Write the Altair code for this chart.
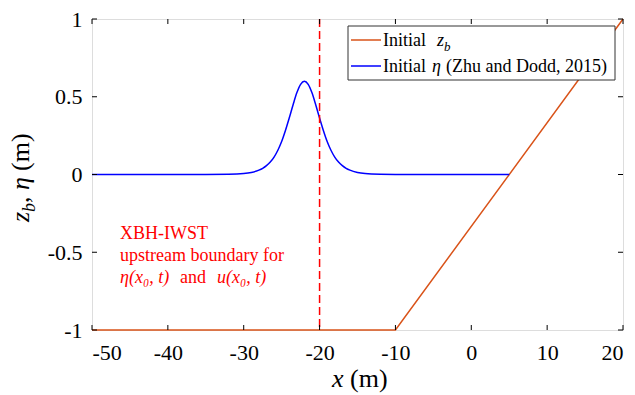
import altair as alt
import pandas as pd

SERIF = "Liberation Serif"

# Initial bed elevation z_b (m)
bed_x = [-50, -10, 20]
bed_z = [-1, -1, 1]

# Initial free surface eta (m), solitary wave centred near x = -22 m
eta_x = [-50, -40, -35, -32, -30, -29, -28, -27.5, -27, -26.5, -26, -25.5, -25,
         -24.5, -24, -23.5, -23, -22.5, -22, -21.5, -21, -20.5, -20, -19.5, -19,
         -18.5, -18, -17.5, -17, -16.5, -16, -15, -14, -12, -10, 0, 5]
eta_y = [0.0, 0.0, 0.0003, 0.0015, 0.006, 0.013, 0.028, 0.040, 0.057, 0.080, 0.112,
         0.156, 0.212, 0.283, 0.363, 0.447, 0.525, 0.580, 0.600, 0.580, 0.525, 0.447,
         0.363, 0.283, 0.212, 0.156, 0.112, 0.080, 0.057, 0.040, 0.028, 0.013, 0.006,
         0.0015, 0.0005, 0.0, 0.0]

# Upstream boundary location x0 (m)
boundary_x = [-20]

x_ticks = [-50, -40, -30, -20, -10, 0, 10, 20]
y_ticks = [-1, -0.5, 0, 0.5, 1]

W, H = 531, 311
ORANGE = "#D95319"
BLUE = "#0000FF"
RED = "#FF0000"
TICK_FONT = 22
TITLE_FONT = 26

xs = alt.Scale(domain=[-50, 20], nice=False, zero=False)
ys = alt.Scale(domain=[-1, 1], nice=False, zero=False)

bed_df = pd.DataFrame({"x": bed_x, "z": bed_z})
eta_df = pd.DataFrame({"x": eta_x, "eta": eta_y})

# plain hyphen-minus in tick labels
plain_label = "'' + datum.value"

base_x = alt.X("x:Q", scale=xs,
               axis=alt.Axis(values=x_ticks, ticks=False, grid=False, domain=False,
                             labelFont=SERIF, labelFontSize=TICK_FONT, labelColor="black",
                             labelPadding=12, title=None, labelExpr=plain_label))

bed = alt.Chart(bed_df).mark_line(color=ORANGE, strokeWidth=1.5).encode(
    x=base_x,
    y=alt.Y("z:Q", scale=ys,
            axis=alt.Axis(values=y_ticks, ticks=False, grid=False, domain=False,
                          labelFont=SERIF, labelFontSize=TICK_FONT, labelColor="black",
                          labelPadding=10, title=None, labelExpr=plain_label)),
)

eta = alt.Chart(eta_df).mark_line(color=BLUE, strokeWidth=1.5, interpolate="monotone").encode(
    x=alt.X("x:Q", scale=xs),
    y=alt.Y("eta:Q", scale=ys),
)

boundary = alt.Chart(pd.DataFrame({"x": boundary_x})).mark_rule(
    color=RED, strokeWidth=1.5, strokeDash=[8, 4]
).encode(x=alt.X("x:Q", scale=xs))

# Inward tick marks on all four sides of the box
xt_df = pd.DataFrame({"x": x_ticks})
yt_df = pd.DataFrame({"y": y_ticks})
tk = dict(color="black", strokeWidth=1)
xt_bottom = alt.Chart(xt_df).mark_rule(**tk).encode(
    x=alt.X("x:Q", scale=xs), y=alt.value(H), y2=alt.value(H - 5))
xt_top = alt.Chart(xt_df).mark_rule(**tk).encode(
    x=alt.X("x:Q", scale=xs), y=alt.value(0), y2=alt.value(5))
yt_left = alt.Chart(yt_df).mark_rule(**tk).encode(
    y=alt.Y("y:Q", scale=ys), x=alt.value(0), x2=alt.value(5))
yt_right = alt.Chart(yt_df).mark_rule(**tk).encode(
    y=alt.Y("y:Q", scale=ys), x=alt.value(W), x2=alt.value(W - 5))


def label(txt, x, y, size, color="black", italic=False, angle=0, align="left",
          baseline="alphabetic"):
    return alt.Chart(alt.Data(values=[{}])).mark_text(
        text=txt, font=SERIF, fontSize=size, color=color,
        fontStyle="italic" if italic else "normal",
        angle=angle, align=align, baseline=baseline,
    ).encode(x=alt.value(x), y=alt.value(y))


# Legend box
legend_box = alt.Chart(alt.Data(values=[{}])).mark_rect(
    fill="white", stroke="#333333", strokeWidth=1
).encode(x=alt.value(256), x2=alt.value(523), y=alt.value(7), y2=alt.value(61))
leg_line1 = alt.Chart(alt.Data(values=[{}])).mark_rule(color=ORANGE, strokeWidth=1.5).encode(
    x=alt.value(259), x2=alt.value(289), y=alt.value(21))
leg_line2 = alt.Chart(alt.Data(values=[{}])).mark_rule(color=BLUE, strokeWidth=1.5).encode(
    x=alt.value(259), x2=alt.value(289), y=alt.value(47))

legend_texts = [
    label("Initial", 291, 27, 18),
    label("z", 345, 27, 18, italic=True),
    label("b", 352, 32, 13, italic=True),
    label("Initial", 291, 53, 18),
    label("η", 340, 53, 18, italic=True),
    label("(Zhu and Dodd, 2015)", 354, 53, 18),
]

# Annotation for the upstream boundary
note = [
    label("XBH-IWST", 28, 220, 18, color=RED),
    label("upstream boundary for", 28, 242, 18, color=RED),
    label("η(x₀, t)", 28, 264, 18, color=RED, italic=True),
    label("and", 88, 264, 18, color=RED),
    label("u(x₀, t)", 125, 264, 18, color=RED, italic=True),
]

# Axis titles
x_title = [
    label("x", 240, 368, TITLE_FONT, italic=True),
    label("(m)", 258, 368, TITLE_FONT),
]
y_title = [
    label("z", -63, 203, TITLE_FONT, italic=True, angle=270),
    label("b", -57, 193, 18, italic=True, angle=270),
    label(",", -63, 184, TITLE_FONT, angle=270),
    label("η", -63, 171, TITLE_FONT, italic=True, angle=270),
    label("(m)", -63, 152, TITLE_FONT, angle=270),
]

chart = alt.layer(
    bed, eta, boundary, xt_bottom, xt_top, yt_left, yt_right,
    legend_box, leg_line1, leg_line2, *legend_texts, *note, *x_title, *y_title,
).properties(
    width=W, height=H,
    autosize=alt.AutoSizeParams(type="none"),
    padding={"left": 92, "top": 19, "right": 12, "bottom": 65},
).configure_view(
    stroke="black", strokeWidth=1
).configure(background="white")

chart.save("out.html", embed_options={"renderer": "svg", "actions": False})
